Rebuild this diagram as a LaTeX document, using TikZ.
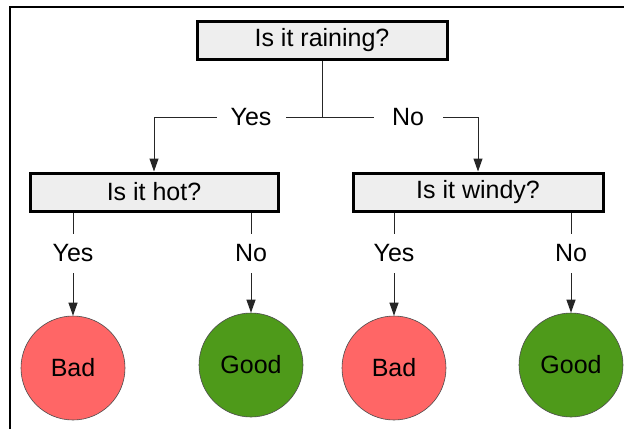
\documentclass[tikz,border=0pt]{standalone}
\usepackage{fontspec}
\setmainfont{Liberation Sans}
\usetikzlibrary{arrows.meta}
\definecolor{boxfill}{HTML}{EEEEEE}
\definecolor{badred}{HTML}{FF6666}
\definecolor{goodgreen}{HTML}{4E9A1A}
\begin{document}
\begin{tikzpicture}[x=1pt,y=-1pt,
  qbox/.style={draw=black, line width=3pt, fill=boxfill, minimum width=248pt, minimum height=38pt, inner sep=0pt, font=\fontsize{25}{29}\selectfont},
  leaf/.style={circle, draw=black!70, line width=0.6pt, minimum size=104pt, inner sep=0pt, font=\fontsize{25}{29}\selectfont},
  lbl/.style={fill=white, inner sep=0pt, minimum width=69pt, minimum height=39pt, font=\fontsize{25}{29}\selectfont},
  conn/.style={draw=black!85, line width=1pt},
  arr/.style={conn, -{Triangle[length=13pt,width=9pt]}}]
\useasboundingbox (0,0) rectangle (624,429);
\draw[line width=1.5pt] (10,429) -- (10,7) -- (624,7);

\node[qbox, minimum width=250pt] (root) at (322,40) {Is it raining?};
\node[qbox] (hot) at (154,192) {Is it hot?};
\node[qbox, minimum width=250pt] (windy) at (478,192) {Is it windy?};

\node[leaf, fill=badred] (bad1) at (73,368) {Bad};
\node[leaf, fill=goodgreen] (good1) at (251,365) {Good};
\node[leaf, fill=badred] (bad2) at (394,368) {Bad};
\node[leaf, fill=goodgreen] (good2) at (571,365) {Good};

\coordinate (j) at (322,117);
\draw[conn] (root) -- (j);
\draw[arr] (j) -| (hot);
\draw[arr] (j) -| (windy);

\draw[arr] (hot.south -| bad1) -- (bad1);
\draw[arr] (hot.south -| good1) -- (good1);
\draw[arr] (windy.south -| bad2) -- (bad2);
\draw[arr] (windy.south -| good2) -- (good2);

\node[lbl] (yes0) at (251,117) {Yes};
\node[lbl] (no0) at (408,117) {No};
\node[lbl, minimum width=50pt] (yes1) at (73,253) {Yes};
\node[lbl, minimum width=50pt] (no1) at (251,253) {No};
\node[lbl, minimum width=50pt] (yes2) at (394,253) {Yes};
\node[lbl, minimum width=50pt] (no2) at (571,253) {No};
\end{tikzpicture}
\end{document}
